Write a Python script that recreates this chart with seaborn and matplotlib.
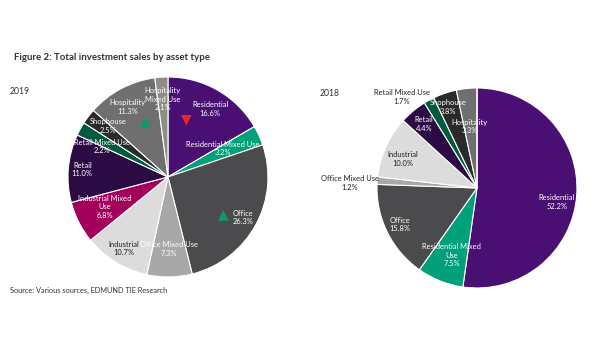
import numpy as np
import matplotlib
matplotlib.use("Agg")
import matplotlib.pyplot as plt
import seaborn as sns

sns.set_style("white")
plt.rcParams['font.family'] = ['Lato', 'DejaVu Sans']

# Asset types, clockwise from 12 o'clock
asset_types = ['Residential', 'Residential Mixed Use', 'Office', 'Office Mixed Use',
               'Industrial', 'Industrial Mixed Use', 'Retail', 'Retail Mixed Use',
               'Shophouse', 'Hospitality', 'Hospitality Mixed Use']
share_2019 = [16.6, 3.2, 26.3, 7.3, 10.7, 6.8, 11.0, 2.2, 2.5, 11.3, 2.1]
share_2018 = [52.2, 7.5, 15.8, 1.2, 10.0, 0.0, 4.4, 1.7, 3.8, 3.3, 0.0]

label_names_2019 = ['Residential', 'Residential Mixed Use', 'Office', 'Office Mixed Use',
                    'Industrial', 'Industrial Mixed\nUse', 'Retail', 'Retail Mixed Use',
                    'Shophouse', 'Hospitality', 'Hospitality\nMixed Use']
label_names_2018 = ['Residential', 'Residential Mixed\nUse', 'Office', 'Office Mixed Use',
                    'Industrial', '', 'Retail', 'Retail Mixed Use',
                    'Shophouse', 'Hospitality', '']

colors = ['#4a0f73', '#00a07a', '#4b4b4d', '#a8a8a8', '#dcdcdc', '#a3005c',
          '#2c0b45', '#005a40', '#2a2a2a', '#6f6f6f', '#8e8e86']

# label placement: radius fraction, angle tweak (deg), text colour
pos_2019 = [(0.80, -2, 'w'), (0.62, 3, 'w'), (0.85, 0, 'w'), (0.72, 0, 'w'),
            (0.84, 0, 'k'), (0.70, -2, 'w'), (0.86, 0, 'w'), (0.73, 4, 'w'),
            (0.79, -3, 'w'), (0.81, 2, 'w'), (0.78, 0, 'w')]
pos_2018 = [(0.81, -6, 'w'), (0.72, 1, 'w'), (0.85, -1, 'w'), (1.27, 2, 'k'),
            (0.80, 3, 'k'), (0.0, 0, 'w'), (0.83, 0, 'w'), (1.18, 11, 'k'),
            (0.86, 1, 'w'), (0.62, 1, 'w'), (0.0, 0, 'w')]


def draw_pie(ax, values, names, placement):
    wedges, _ = ax.pie(values, colors=colors, startangle=90, counterclock=False,
                       radius=1, wedgeprops=dict(edgecolor='white', linewidth=0.8))
    for w, v, n, (rf, da, c) in zip(wedges, values, names, placement):
        if v <= 0:
            continue
        ang = np.deg2rad((w.theta1 + w.theta2) / 2 + da)
        ax.text(rf * np.cos(ang), rf * np.sin(ang), f'{n}\n{v:.1f}%',
                ha='center', va='center', fontsize=5.4,
                color='white' if c == 'w' else '#222222', linespacing=1.25)
    ax.set_xlim(-1, 1)
    ax.set_ylim(-1, 1)
    ax.axis('off')


fig = plt.figure(figsize=(6, 3.6), dpi=100)
ax1 = fig.add_axes([0.1133, 0.2306, 0.3333, 0.5556])
ax2 = fig.add_axes([0.6283, 0.2, 0.3333, 0.5556])

draw_pie(ax1, share_2019, label_names_2019, pos_2019)
draw_pie(ax2, share_2018, label_names_2018, pos_2018)

# change indicators on 2019 pie
ax1.text(0.185, 0.58, '▼', color='#e8262a', fontsize=10, ha='center', va='center', family='DejaVu Sans')
ax1.text(0.55, -0.37, '▲', color='#0a9a6e', fontsize=10, ha='center', va='center', family='DejaVu Sans')
ax1.text(-0.23, 0.56, '▲', color='#0a9a6e', fontsize=10, ha='center', va='center', family='DejaVu Sans')

fig.text(14 / 600, 1 - 58 / 360, 'Figure 2: Total investment sales by asset type',
         fontsize=6.9, fontweight='bold', color='#333333', va='center')
fig.text(10 / 600, 1 - 92 / 360, '2019', fontsize=6.2, color='#333333', va='center')
fig.text(320 / 600, 1 - 94 / 360, '2018', fontsize=6.2, color='#333333', va='center')
fig.text(10 / 600, 1 - 290 / 360, 'Source: Various sources, EDMUND TIE Research',
         fontsize=5.3, color='#333333', va='center')

fig.savefig('out.png', dpi=100)
